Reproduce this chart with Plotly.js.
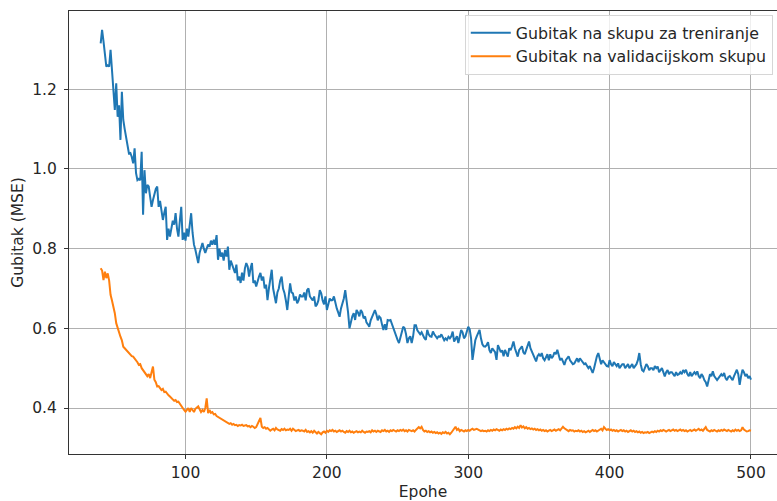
<!DOCTYPE html>
<html>
<head>
<meta charset="utf-8">
<script src="https://cdn.plot.ly/plotly-3.0.1.min.js"></script>
<style>html,body{margin:0;padding:0;background:#fff;}#chart{width:777px;height:501px;}</style>
</head>
<body>
<div id="chart"></div>
<script>
const firstEpoch = 40;
const seriesNames = ["Gubitak na skupu za treniranje", "Gubitak na validacijskom skupu"];
const xTitle = "Epohe";
const yTitle = "Gubitak (MSE)";
const xTicks = [100, 200, 300, 400, 500];
const yTicks = [0.4, 0.6, 0.8, 1.0, 1.2];
const yTickLabels = ["0.4", "0.6", "0.8", "1.0", "1.2"];

const trainLoss = [
1.315,1.349,1.32,1.28,1.257,1.26,1.257,1.299,1.25,1.215,
1.148,1.215,1.131,1.16,1.073,1.194,1.123,1.10,1.081,1.06,
1.039,1.04,1.03,1.014,1.052,0.99,0.972,0.975,0.972,1.043,
0.885,0.997,0.939,0.96,0.956,0.93,0.905,0.922,0.94,0.95,
0.956,0.905,0.92,0.89,0.872,0.89,0.905,0.822,0.85,0.830,
0.85,0.87,0.86,0.889,0.85,0.830,0.87,0.905,0.822,0.84,
0.82,0.85,0.83,0.86,0.889,0.84,0.81,0.797,0.78,0.764,
0.79,0.80,0.814,0.80,0.789,0.80,0.81,0.805,0.82,0.81,
0.822,0.81,0.834,0.772,0.80,0.78,0.79,0.77,0.797,0.78,
0.805,0.747,0.77,0.76,0.75,0.739,0.76,0.72,0.73,0.714,
0.74,0.72,0.75,0.764,0.755,0.73,0.75,0.764,0.714,0.72,
0.705,0.72,0.73,0.739,0.72,0.73,0.70,0.71,0.671,0.70,
0.72,0.747,0.70,0.68,0.663,0.69,0.70,0.72,0.730,0.70,
0.689,0.67,0.646,0.68,0.713,0.69,0.688,0.67,0.68,0.663,
0.67,0.685,0.68,0.680,0.69,0.67,0.696,0.700,0.68,0.675,
0.67,0.68,0.655,0.66,0.67,0.696,0.688,0.67,0.66,0.680,
0.646,0.66,0.675,0.67,0.671,0.68,0.66,0.65,0.64,0.629,
0.65,0.66,0.675,0.696,0.67,0.64,0.600,0.62,0.63,0.638,
0.621,0.646,0.64,0.63,0.646,0.64,0.625,0.63,0.615,0.61,
0.604,0.62,0.63,0.64,0.646,0.635,0.62,0.63,0.626,0.61,
0.596,0.61,0.596,0.621,0.62,0.621,0.61,0.60,0.59,0.58,
0.571,0.563,0.58,0.59,0.604,0.60,0.585,0.563,0.575,0.58,
0.563,0.58,0.608,0.608,0.595,0.59,0.585,0.59,0.58,0.575,
0.571,0.596,0.585,0.58,0.579,0.592,0.585,0.58,0.575,0.58,
0.579,0.585,0.575,0.57,0.575,0.571,0.579,0.575,0.58,0.592,
0.567,0.575,0.58,0.563,0.585,0.596,0.59,0.575,0.58,0.595,
0.604,0.598,0.575,0.521,0.55,0.57,0.58,0.59,0.596,0.575,
0.56,0.555,0.554,0.558,0.565,0.545,0.538,0.55,0.545,0.54,
0.521,0.558,0.55,0.54,0.545,0.53,0.546,0.535,0.529,0.55,
0.545,0.555,0.567,0.55,0.54,0.529,0.545,0.55,0.555,0.54,
0.535,0.546,0.555,0.567,0.55,0.54,0.535,0.525,0.517,0.53,
0.535,0.53,0.538,0.525,0.52,0.53,0.535,0.52,0.535,0.525,
0.53,0.54,0.535,0.546,0.53,0.52,0.525,0.515,0.508,0.52,
0.525,0.53,0.52,0.515,0.51,0.512,0.52,0.525,0.515,0.525,
0.52,0.515,0.51,0.512,0.505,0.50,0.505,0.495,0.488,0.50,
0.52,0.53,0.538,0.52,0.51,0.52,0.515,0.51,0.505,0.504,
0.52,0.51,0.505,0.515,0.51,0.505,0.512,0.50,0.505,0.51,
0.51,0.50,0.505,0.51,0.50,0.504,0.51,0.50,0.505,0.51,
0.52,0.538,0.51,0.495,0.492,0.50,0.51,0.505,0.495,0.50,
0.50,0.495,0.505,0.50,0.504,0.49,0.495,0.50,0.49,0.479,
0.49,0.495,0.485,0.49,0.49,0.485,0.48,0.49,0.483,0.485,
0.49,0.485,0.495,0.49,0.496,0.485,0.48,0.49,0.48,0.485,
0.49,0.485,0.492,0.48,0.475,0.485,0.48,0.47,0.465,0.454,
0.47,0.485,0.48,0.492,0.48,0.475,0.47,0.475,0.48,0.485,
0.48,0.488,0.475,0.47,0.478,0.48,0.475,0.47,0.48,0.49,
0.496,0.485,0.458,0.48,0.496,0.49,0.48,0.485,0.475,0.48,0.471
];

const valLoss = [
0.751,0.745,0.721,0.742,0.726,0.738,0.72,0.684,0.67,0.654,
0.638,0.613,0.60,0.59,0.579,0.57,0.554,0.55,0.546,0.54,
0.538,0.532,0.53,0.529,0.525,0.521,0.515,0.508,0.51,0.50,
0.495,0.49,0.487,0.48,0.485,0.475,0.49,0.504,0.471,0.465,
0.454,0.455,0.45,0.445,0.448,0.44,0.441,0.435,0.432,0.429,
0.425,0.42,0.418,0.42,0.415,0.416,0.41,0.405,0.400,0.395,
0.391,0.395,0.40,0.39,0.400,0.395,0.39,0.398,0.40,0.404,
0.397,0.39,0.395,0.39,0.40,0.424,0.387,0.395,0.388,0.39,
0.384,0.385,0.38,0.378,0.375,0.372,0.37,0.368,0.366,0.365,
0.362,0.36,0.362,0.358,0.36,0.357,0.358,0.355,0.357,0.356,
0.358,0.355,0.356,0.357,0.354,0.355,0.352,0.355,0.353,0.35,
0.352,0.36,0.368,0.375,0.353,0.35,0.352,0.348,0.35,0.345,
0.343,0.346,0.348,0.344,0.35,0.346,0.345,0.343,0.347,0.345,
0.348,0.344,0.346,0.345,0.348,0.343,0.348,0.345,0.342,0.344,
0.345,0.342,0.344,0.343,0.341,0.345,0.34,0.342,0.339,0.342,
0.338,0.343,0.34,0.336,0.34,0.338,0.334,0.339,0.341,0.338,
0.343,0.34,0.344,0.342,0.345,0.341,0.343,0.34,0.342,0.344,
0.341,0.343,0.34,0.338,0.342,0.34,0.343,0.339,0.341,0.338,
0.34,0.342,0.339,0.341,0.339,0.343,0.34,0.338,0.341,0.34,
0.342,0.339,0.344,0.341,0.343,0.34,0.343,0.342,0.34,0.344,
0.342,0.345,0.341,0.343,0.34,0.344,0.342,0.345,0.343,0.341,
0.344,0.342,0.345,0.343,0.346,0.342,0.344,0.341,0.345,0.343,
0.342,0.344,0.341,0.345,0.348,0.352,0.349,0.353,0.345,0.341,
0.343,0.34,0.342,0.339,0.341,0.338,0.34,0.337,0.339,0.336,
0.338,0.335,0.339,0.337,0.34,0.336,0.338,0.334,0.338,0.344,
0.35,0.353,0.345,0.348,0.342,0.345,0.343,0.341,0.344,0.342,
0.345,0.343,0.346,0.348,0.345,0.347,0.348,0.346,0.344,0.342,
0.344,0.342,0.343,0.341,0.344,0.342,0.345,0.343,0.346,0.344,
0.347,0.345,0.343,0.346,0.344,0.347,0.345,0.348,0.346,0.349,
0.347,0.35,0.348,0.352,0.349,0.353,0.35,0.357,0.351,0.354,
0.349,0.352,0.348,0.35,0.347,0.349,0.346,0.348,0.345,0.347,
0.344,0.346,0.343,0.345,0.342,0.344,0.341,0.343,0.345,0.342,
0.344,0.346,0.343,0.345,0.347,0.344,0.348,0.353,0.349,0.346,
0.344,0.342,0.345,0.343,0.344,0.341,0.343,0.342,0.344,0.341,
0.343,0.34,0.342,0.339,0.341,0.343,0.34,0.342,0.345,0.342,
0.344,0.341,0.343,0.345,0.348,0.344,0.352,0.348,0.345,0.347,
0.344,0.346,0.343,0.345,0.342,0.344,0.341,0.343,0.345,0.342,
0.344,0.341,0.343,0.34,0.342,0.344,0.341,0.343,0.34,0.342,
0.339,0.341,0.338,0.34,0.337,0.339,0.338,0.34,0.337,0.339,
0.341,0.339,0.342,0.34,0.343,0.341,0.344,0.342,0.345,0.343,
0.341,0.343,0.345,0.342,0.344,0.346,0.343,0.345,0.342,0.344,
0.346,0.343,0.345,0.342,0.344,0.341,0.343,0.345,0.342,0.344,
0.346,0.343,0.345,0.348,0.344,0.346,0.343,0.348,0.352,0.345,
0.343,0.341,0.344,0.342,0.345,0.343,0.341,0.344,0.342,0.345,
0.343,0.346,0.344,0.342,0.345,0.343,0.341,0.344,0.342,0.346,
0.343,0.345,0.342,0.344,0.352,0.346,0.343,0.341,0.342,0.344,0.343
];

const epochs = trainLoss.map((_, i) => firstEpoch + i);

const font = {family: "DejaVu Sans, sans-serif", size: 15.5, color: "#262626"};

const traces = [
  {x: epochs, y: trainLoss, type: "scatter", mode: "lines", name: seriesNames[0],
   line: {color: "#1f77b4", width: 2}},
  {x: epochs, y: valLoss, type: "scatter", mode: "lines", name: seriesNames[1],
   line: {color: "#ff7f0e", width: 2}}
];

const layout = {
  width: 777, height: 501,
  margin: {l: 69, r: 0, t: 11, b: 47, pad: 0},
  paper_bgcolor: "#ffffff", plot_bgcolor: "#ffffff",
  font: font,
  showlegend: true,
  legend: {
    x: 0.559, y: 0.991, xanchor: "left", yanchor: "top",
    bgcolor: "rgba(255,255,255,0.8)", bordercolor: "#d6d6d6", borderwidth: 1,
    font: {family: "DejaVu Sans, sans-serif", size: 15.8, color: "#262626"},
    tracegroupgap: 0, itemwidth: 40
  },
  xaxis: {
    range: [17.6, 518.4], tickmode: "array", tickvals: xTicks,
    ticks: "outside", ticklen: 4, tickwidth: 1, tickcolor: "#333",
    showline: true, linecolor: "#333", linewidth: 1, mirror: true,
    showgrid: true, gridcolor: "#b0b0b0", gridwidth: 1, zeroline: false,
    title: {text: xTitle, standoff: 6, font: font}, automargin: false
  },
  yaxis: {
    range: [0.2846, 1.3965], tickmode: "array", tickvals: yTicks, ticktext: yTickLabels,
    ticks: "outside", ticklen: 4, tickwidth: 1, tickcolor: "#333",
    showline: true, linecolor: "#333", linewidth: 1, mirror: false,
    showgrid: true, gridcolor: "#b0b0b0", gridwidth: 1, zeroline: false,
    ticklabelstandoff: 4,
    title: {text: yTitle, standoff: 4, font: font}, automargin: false
  }
};

Plotly.newPlot("chart", traces, layout, {displayModeBar: false, staticPlot: true});
</script>
</body>
</html>
